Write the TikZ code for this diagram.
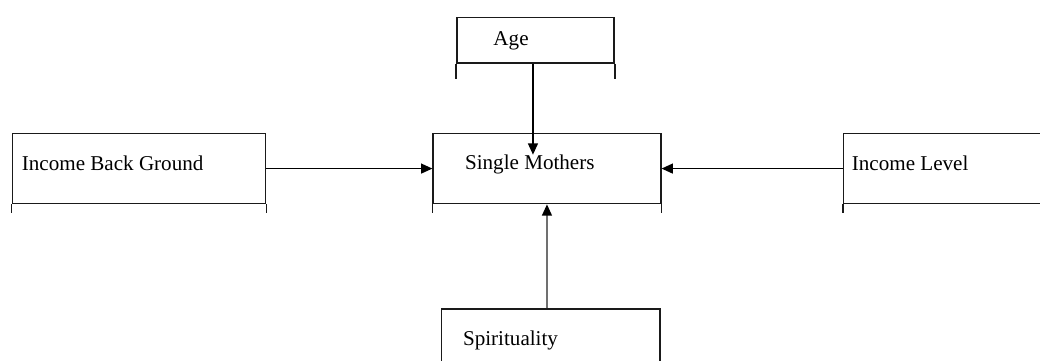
\documentclass[tikz,border=0pt]{standalone}
\usepackage{fontspec}
\setmainfont{Liberation Serif}
\usepackage{xcolor}
\usepackage{tikz}
\usetikzlibrary{calc,positioning,arrows.meta}
\definecolor{boxline}{HTML}{1A1A1A}
\definecolor{stemgrey}{HTML}{707070}
\tikzset{
  varbox/.style  = {draw=boxline, line width=1.1pt, rectangle, inner sep=0pt,
                    anchor=north west},
  vartext/.style = {font=\fontsize{15}{18}\selectfont, inner sep=0pt,
                    anchor=base west},
  leg/.style     = {draw=boxline, line width=1.1pt},
  link/.style    = {-{Triangle[length=8pt, width=7pt, black]}, draw=black,
                    line width=1.1pt},
}

\begin{document}
\begin{tikzpicture}[x=1cm, y=1cm]
    \clip (0,0) rectangle (26,9);

    % boxes
    \node[varbox, minimum width=3.93cm, minimum height=1.14cm] (age) at (11.40,8.58) {};
    \node[varbox, minimum width=6.33cm, minimum height=1.75cm] (ibg) at (0.29,5.68) {};
    \node[varbox, minimum width=5.69cm, minimum height=1.75cm] (sm) at (10.81,5.68) {};
    \node[varbox, minimum width=5.60cm, minimum height=1.75cm] (il) at (21.07,5.68) {};
    \node[varbox, minimum width=5.46cm, minimum height=1.90cm] (spir) at (11.02,1.29) {};

    % short legs under the boxes
    \foreach \bx/\ln in {age/0.375, ibg/0.225, sm/0.225, il/0.225}
      {\draw[leg] (\bx.south west) -- ++(0,-\ln) (\bx.south east) -- ++(0,-\ln);}

    % texts
    \node[vartext] (agetxt)  at (12.33,7.85) {Age};
    \node[vartext] (ibgtxt)  at (0.54,4.75)  {Income Back Ground};
    \node[vartext] (smtxt)   at (11.62,4.76) {Single Mothers};
    \node[vartext] (iltxt)   at (21.29,4.75) {Income Level};
    \node[vartext] (spirtxt) at (11.57,0.375) {Spirituality};

    % arrows
    \draw[link] ([xshift=-0.06cm]age.south) -- ([xshift=-0.06cm]age.south |- smtxt.north);
    \draw[link] (ibg.east) -- (sm.west);
    \draw[link] (il.west) -- (sm.east);
    \draw[link, draw=stemgrey] (sm.south |- spir.north) -- (sm.south);
  \end{tikzpicture}
\end{document}
